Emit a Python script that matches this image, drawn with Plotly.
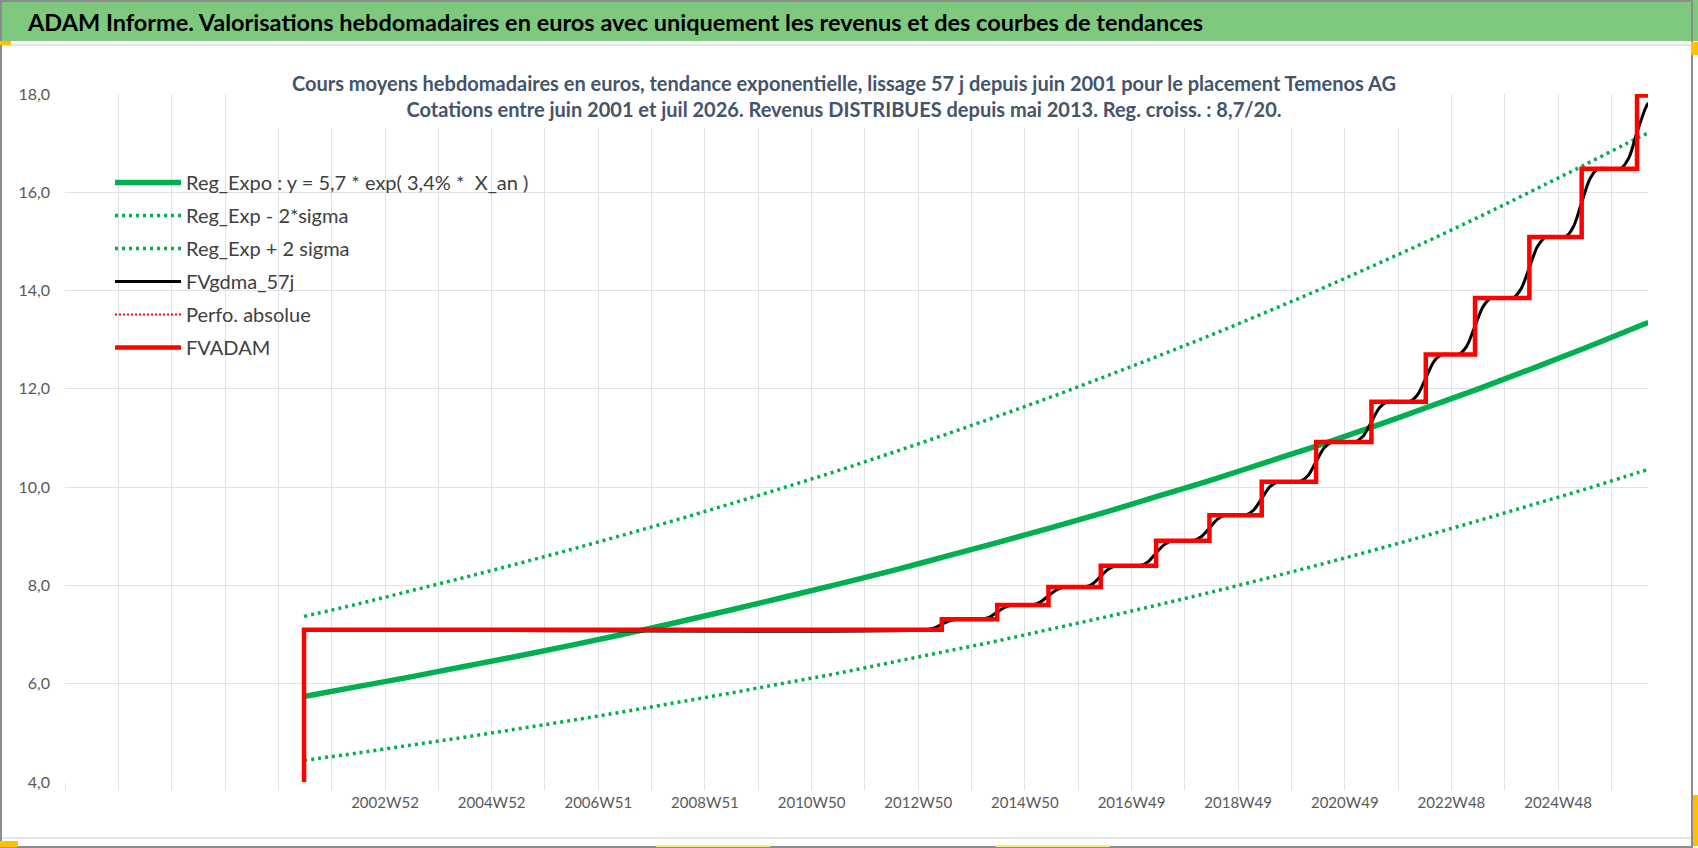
"""ADAM - Temenos AG : valorisations hebdomadaires, tendance exponentielle et FVADAM."""

import plotly.graph_objects as go

# Axe x : semaines écoulées depuis 2001W25 (juin 2001), début des cotations
# Grille verticale toutes les 52 semaines, libellé une fois sur deux
grille_semaines = [-233, -181, -129, -77, -25, 27, 79, 131, 183, 235, 287, 339, 391, 443,
                   495, 547, 599, 651, 703, 755, 807, 859, 911, 963, 1015, 1067, 1119,
                   1171, 1223, 1275]
grille_libelles = ["", "", "", "", "", "", "2002W52", "", "2004W52", "", "2006W51", "",
                   "2008W51", "", "2010W50", "", "2012W50", "", "2014W50", "", "2016W49", "",
                   "2018W49", "", "2020W49", "", "2022W48", "", "2024W48", ""]

# Régression exponentielle et bandes +/- 2 sigma, relevées chaque année
semaines_reg = [0, 52, 104, 156, 208, 260, 312, 364, 416, 468, 520, 572, 624, 676, 728,
                780, 832, 884, 936, 988, 1040, 1092, 1144, 1196, 1248, 1300, 1311]
reg_expo = [5.74, 5.94, 6.14, 6.35, 6.56, 6.78, 7.01, 7.25, 7.50, 7.76, 8.02, 8.29, 8.58,
            8.87, 9.17, 9.48, 9.81, 10.14, 10.49, 10.84, 11.21, 11.60, 11.99, 12.40, 12.82,
            13.26, 13.35]
reg_moins_2s = [4.44, 4.59, 4.75, 4.91, 5.08, 5.25, 5.43, 5.62, 5.81, 6.01, 6.21, 6.43, 6.65,
                6.87, 7.11, 7.35, 7.60, 7.86, 8.13, 8.41, 8.70, 9.00, 9.31, 9.63, 9.95,
                10.29, 10.36]
reg_plus_2s = [7.37, 7.62, 7.89, 8.16, 8.44, 8.73, 9.03, 9.34, 9.66, 9.99, 10.33, 10.69,
               11.06, 11.44, 11.83, 12.24, 12.66, 13.09, 13.54, 14.00, 14.48, 14.97, 15.48,
               16.01, 16.55, 17.10, 17.21]

# FVADAM : valeur en escalier (revenus distribués depuis mai 2013)
semaines_fvadam = [0, 0, 622, 676, 726, 777, 831, 883, 934, 987, 1041, 1094, 1142, 1195,
                   1246, 1300, 1311]
fvadam = [0.0, 7.10, 7.31, 7.60, 7.97, 8.40, 8.91, 9.43, 10.11, 10.92, 11.74, 12.70, 13.85,
          15.09, 16.48, 17.97, 17.97]

# FVgdma_57j : version lissée de FVADAM
semaines_gdma = [0, 606, 614, 622, 630, 638, 660, 668, 676, 684, 692, 710, 718, 726, 734, 742,
                 761, 769, 777, 785, 793, 815, 823, 831, 839, 847, 867, 875, 883, 891, 899,
                 918, 926, 934, 942, 950, 971, 979, 987, 995, 1003, 1025, 1033, 1041, 1049,
                 1057, 1078, 1086, 1094, 1102, 1110, 1126, 1134, 1142, 1150, 1158, 1179,
                 1187, 1195, 1203, 1211, 1230, 1238, 1246, 1254, 1262, 1284, 1292, 1300,
                 1308, 1311]
fvgdma = [7.10, 7.10, 7.13, 7.21, 7.28, 7.31, 7.31, 7.35, 7.46, 7.56, 7.60, 7.60, 7.66, 7.79,
          7.91, 7.97, 7.97, 8.03, 8.19, 8.34, 8.40, 8.40, 8.48, 8.66, 8.83, 8.91, 8.91, 8.99,
          9.17, 9.35, 9.43, 9.43, 9.53, 9.77, 10.01, 10.11, 10.11, 10.23, 10.52, 10.80,
          10.92, 10.92, 11.04, 11.33, 11.62, 11.74, 11.74, 11.88, 12.22, 12.56, 12.70,
          12.70, 12.87, 13.28, 13.68, 13.85, 13.85, 14.04, 14.47, 14.90, 15.09, 15.09,
          15.30, 15.79, 16.27, 16.48, 16.48, 16.70, 17.22, 17.70, 17.82]

TITRE = ("ADAM Informe. Valorisations hebdomadaires en euros avec uniquement les revenus "
         "et des courbes de tendances")
SOUS_TITRE = ("Cours moyens hebdomadaires en euros, tendance exponentielle, lissage 57 j depuis "
              "juin 2001 pour le placement Temenos AG<br>Cotations entre juin 2001 et juil 2026. "
              "Revenus DISTRIBUES depuis mai 2013. Reg. croiss. : 8,7/20.")

FONT = "Lato, Liberation Sans Narrow, sans-serif"
VERT = "#00B050"
ROUGE = "#FF0000"
GRILLE = "#DEE2E8"

# zone de tracé en pixels
W, H = 1698, 848
L, R, T, B = 65, 1648, 94, 782


def fx(px):
    return (px - L) / (R - L)


def fy(py):
    return (B - py) / (B - T)


fig = go.Figure()
fig.add_trace(go.Scatter(x=semaines_reg, y=reg_expo, mode="lines", line_shape="spline",
                         name="Reg_Expo : y = 5,7 * exp( 3,4% *  X_an )", legendgroup="a",
                         line=dict(color=VERT, width=5.5)))
fig.add_trace(go.Scatter(x=semaines_reg, y=reg_moins_2s, mode="lines", line_shape="spline",
                         name="Reg_Exp - 2*sigma", legendgroup="b",
                         line=dict(color=VERT, width=3.5, dash="3px,4px")))
fig.add_trace(go.Scatter(x=semaines_reg, y=reg_plus_2s, mode="lines", line_shape="spline",
                         name="Reg_Exp + 2 sigma", legendgroup="c",
                         line=dict(color=VERT, width=3.5, dash="3px,4px")))
fig.add_trace(go.Scatter(x=semaines_gdma, y=fvgdma, mode="lines", line_shape="spline",
                         name="FVgdma_57j", legendgroup="d",
                         line=dict(color="black", width=3, smoothing=0.8)))
fig.add_trace(go.Scatter(x=[None], y=[None], mode="lines", name="Perfo. absolue",
                         legendgroup="e", line=dict(color=ROUGE, width=2, dash="2px,2px")))
fig.add_trace(go.Scatter(x=semaines_fvadam, y=fvadam, mode="lines", line_shape="hv",
                         name="FVADAM", legendgroup="f",
                         line=dict(color=ROUGE, width=4.5)))

shapes = [
    # bandeau vert du titre
    dict(type="rect", xref="paper", yref="paper", x0=fx(0), x1=fx(W), y0=fy(0), y1=fy(41),
         fillcolor="#7FC97F", line=dict(width=0), layer="above"),
    dict(type="line", xref="paper", yref="paper", x0=fx(0), x1=fx(1692), y0=fy(45), y1=fy(45),
         line=dict(color="#E4E4E4", width=2)),
    dict(type="line", xref="paper", yref="paper", x0=fx(0), x1=fx(1692), y0=fy(838), y1=fy(838),
         line=dict(color="#E4E4E4", width=2)),
    # fond blanc du sous-titre (masque la grille)
    dict(type="rect", xref="paper", yref="paper", x0=fx(272), x1=fx(1417), y0=fy(50),
         y1=fy(128), fillcolor="white", line=dict(width=0), layer="above"),
    # cadre
    dict(type="rect", xref="paper", yref="paper", x0=fx(1), x1=fx(1692), y0=fy(1), y1=fy(847),
         line=dict(color="#8C8C8C", width=2), layer="above"),
    # poignées de sélection
    dict(type="rect", xref="paper", yref="paper", x0=fx(0), x1=fx(11), y0=fy(41), y1=fy(45),
         fillcolor="#FFC000", line=dict(width=0), layer="above"),
    dict(type="rect", xref="paper", yref="paper", x0=fx(1691), x1=fx(W), y0=fy(42), y1=fy(55),
         fillcolor="#FFC000", line=dict(width=0), layer="above"),
    dict(type="rect", xref="paper", yref="paper", x0=fx(0), x1=fx(18), y0=fy(841), y1=fy(847),
         fillcolor="#FFC000", line=dict(width=0), layer="above"),
    dict(type="rect", xref="paper", yref="paper", x0=fx(1693), x1=fx(W), y0=fy(795), y1=fy(846),
         fillcolor="#FFC000", line=dict(width=0), layer="above"),
    dict(type="line", xref="paper", yref="paper", x0=fx(656), x1=fx(770), y0=fy(846), y1=fy(846),
         line=dict(color="#FFE97F", width=2)),
    dict(type="line", xref="paper", yref="paper", x0=fx(996), x1=fx(1110), y0=fy(846),
         y1=fy(846), line=dict(color="#FFE97F", width=2)),
]

annotations = [
    dict(text=TITRE, xref="paper", yref="paper", x=fx(25), y=fy(22), xanchor="left",
         yanchor="middle", showarrow=False,
         font=dict(family=FONT, size=23.5, color="black", weight="bold")),
    dict(text=SOUS_TITRE, xref="paper", yref="paper", x=fx(844), y=fy(96), xanchor="center",
         yanchor="middle", showarrow=False, align="center",
         font=dict(family=FONT, size=20, color="#44546A", weight="bold")),
]

fig.update_layout(
    width=W, height=H,
    margin=dict(l=L, r=W - R, t=T, b=H - B, pad=0),
    paper_bgcolor="white", plot_bgcolor="white",
    separators=", ",
    font=dict(family=FONT, color="#595959"),
    shapes=shapes,
    annotations=annotations,
    showlegend=True,
    legend=dict(x=fx(110), y=fy(163), xanchor="left", yanchor="top",
                bgcolor="rgba(0,0,0,0)", traceorder="grouped", tracegroupgap=4,
                itemwidth=66,
                font=dict(family=FONT, size=20, color="#404040")),
    xaxis=dict(range=[-233.1, 1310.7], tickmode="array", tickvals=grille_semaines,
               ticktext=grille_libelles, showgrid=True, gridcolor=GRILLE, gridwidth=1.3,
               ticks="outside", ticklen=7, tickcolor=GRILLE, tickwidth=1.3,
               zeroline=False, showline=False,
               tickfont=dict(family=FONT, size=15, color="#595959")),
    yaxis=dict(range=[4, 18], dtick=2, tickformat=".1f", showgrid=True, gridcolor=GRILLE,
               gridwidth=1.3, zeroline=False, showline=False, ticks="",
               ticklabelstandoff=14,
               tickfont=dict(family=FONT, size=16, color="#595959")),
)

# la page html a une marge de 8 px par défaut : on la supprime
fig.write_html("out.html", config={"displayModeBar": False},
               post_script="document.body.style.margin='0';document.body.style.overflow='hidden';")
